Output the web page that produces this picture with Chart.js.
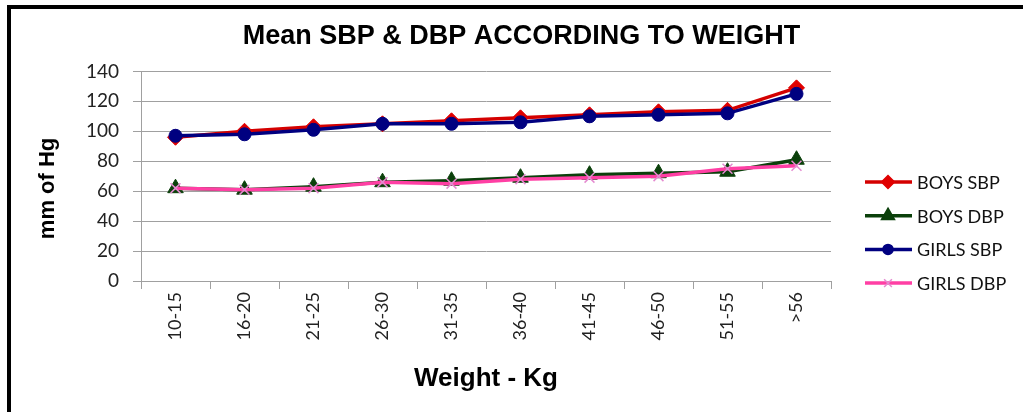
<!DOCTYPE html>
<html>
<head>
<meta charset="utf-8">
<script src="https://cdn.jsdelivr.net/npm/chart.js@4.4.0/dist/chart.umd.min.js"></script>
<style>
  body { margin: 0; background: #fff; overflow: hidden; }
  #frame { position: absolute; left: 7px; top: 5px; width: 1100px; height: 440px; border: 4px solid #000; }
  #wrap { position: absolute; left: 0; top: 0; width: 1043px; height: 412px; }
</style>
</head>
<body>
<div id="frame"></div>
<div id="wrap"><canvas id="bpChart"></canvas></div>
<script>
// Mean blood pressure by weight group
var weightLabels = ["10-15", "16-20", "21-25", "26-30", "31-35", "36-40", "41-45", "46-50", "51-55", ">56"];
var boysSBP = [96, 100, 103, 105, 107, 109, 111, 113, 114, 129];
var boysDBP = [62, 61, 63, 66, 67, 69, 71, 72, 73, 81];
var girlsSBP = [97, 98, 101, 105, 105, 106, 110, 111, 112, 125];
var girlsDBP = [62, 61, 62, 66, 65, 68, 69, 70, 75, 77];
var yTicks = [0, 20, 40, 60, 80, 100, 120, 140];

var seriesNames = ["BOYS SBP", "BOYS DBP", "GIRLS SBP", "GIRLS DBP"];
var lineColors = ["#d40000", "#0b400b", "#000080", "#ff3fa4"];
var markerColors = ["#e00000", "#0b400b", "#000080", "#e48ad0"];
var markerStyles = ["rectRot", "triangle", "circle", "crossRot"];
var markerSizes = [8, 9, 6.5, 7];

var axisGray = "#a0a0a0";
var tickFont = { family: "Lato", size: 19 };

// excel style legend: a short line with the marker sitting on it
var lineLegend = {
    id: "lineLegend",
    afterDraw: function (chart) {
        var ctx = chart.ctx;
        ctx.save();
        seriesNames.forEach(function (name, i) {
            var y = 182 + i * 33.7;
            ctx.strokeStyle = lineColors[i];
            ctx.lineWidth = 3.5;
            ctx.beginPath();
            ctx.moveTo(865, y);
            ctx.lineTo(912, y);
            ctx.stroke();
            ctx.fillStyle = markerColors[i];
            ctx.strokeStyle = markerColors[i];
            ctx.lineWidth = 1.5;
            Chart.helpers.drawPoint(ctx, {
                pointStyle: markerStyles[i],
                radius: markerSizes[i] - 1.5,
                rotation: 0,
                borderWidth: 1.5
            }, 888, y);
            ctx.fillStyle = "#111";
            ctx.font = "18px Lato";
            ctx.textBaseline = "middle";
            ctx.textAlign = "left";
            ctx.fillText(name, 917, y + 1);
        });
        ctx.restore();
    }
};

var seriesData = [boysSBP, boysDBP, girlsSBP, girlsDBP];
var datasets = seriesData.map(function (vals, i) {
    return {
        label: seriesNames[i],
        data: vals,
        borderColor: lineColors[i],
        backgroundColor: markerColors[i],
        borderWidth: 3.5,
        pointStyle: markerStyles[i],
        pointRadius: markerSizes[i],
        pointBackgroundColor: markerColors[i],
        pointBorderColor: markerColors[i],
        pointBorderWidth: i == 3 ? 1.5 : 1,
        tension: 0,
        // girls lines sit on top of the boys lines
        order: i >= 2 ? 1 : 2
    };
});

new Chart("bpChart", {
    type: "line",
    data: {
        labels: weightLabels,
        datasets: datasets
    },
    options: {
        responsive: true,
        maintainAspectRatio: false,
        animation: false,
        layout: { padding: 0 },
        plugins: {
            legend: { display: false },
            tooltip: { enabled: false },
            title: {
                display: true,
                text: "Mean SBP & DBP ACCORDING TO WEIGHT",
                color: "#000",
                font: { family: "Liberation Sans", size: 27, weight: "bold" },
                padding: { top: 20, bottom: 19 }
            }
        },
        scales: {
            x: {
                offset: true,
                grid: { drawOnChartArea: false, drawTicks: true, tickLength: 8, color: axisGray, offset: true },
                border: { color: axisGray },
                ticks: { minRotation: 90, maxRotation: 90, font: { family: "Lato", size: 18 }, color: "#222", padding: 3 },
                title: {
                    display: true,
                    text: "Weight - Kg",
                    color: "#000",
                    font: { family: "Liberation Sans", size: 26, weight: "bold" },
                    padding: { top: 18, bottom: 18 }
                },
                afterFit: function (scale) { scale.height = 131; }
            },
            y: {
                min: 0,
                max: 140,
                afterBuildTicks: function (scale) {
                    scale.ticks = yTicks.map(function (v) { return { value: v }; });
                },
                grid: { color: axisGray, tickLength: 8 },
                border: { color: axisGray },
                ticks: { font: tickFont, color: "#222", padding: 14 },
                title: {
                    display: true,
                    text: "mm of Hg    ",
                    color: "#000",
                    font: { family: "Liberation Sans", size: 22, weight: "bold" },
                    padding: { top: 35, bottom: 35 }
                },
                afterFit: function (scale) { scale.width = 141; }
            },
            // empty right axis keeps room for the legend, title stays centred on the whole frame
            legendRoom: {
                type: "linear",
                position: "right",
                grid: { display: false },
                border: { display: false },
                ticks: { display: false },
                afterFit: function (scale) { scale.width = 212; }
            }
        }
    },
    plugins: [lineLegend]
});
</script>
</body>
</html>
